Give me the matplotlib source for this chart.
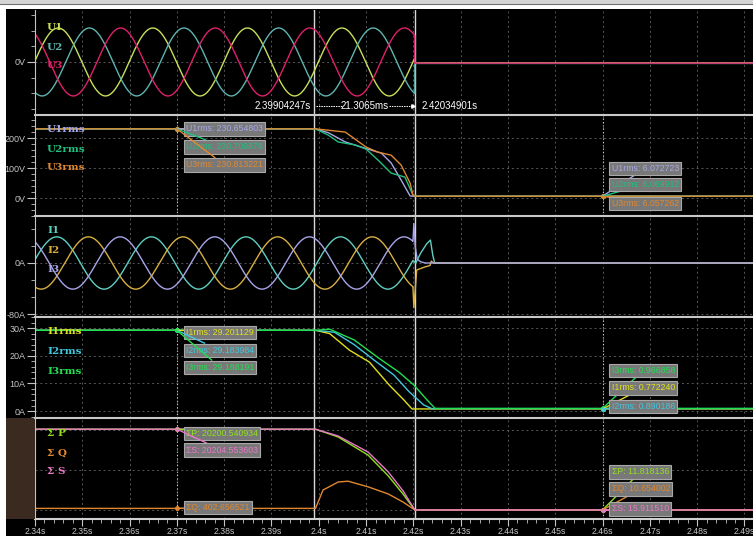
import numpy as np
import matplotlib.pyplot as plt
from matplotlib.ticker import MultipleLocator, FixedLocator, FuncFormatter

W, H = 753, 536

# Sumbu waktu [s]
t_start, t_stop = 2.34, 2.4918
cursor_a, cursor_b = 2.39904247, 2.42034901
mark_a, mark_b = 2.37, 2.46
t_cut_u = 2.4203
t_cut_i = 2.4199
freq = 50.0

# Tegangan fasa: nilai puncak [V] dan waktu puncak pertama [s]
u_names = ['U1', 'U2', 'U3']
u_colors = ['#c8e05a', '#5fb4b0', '#e0206a']
u_peak = [325, 325, 325]
u_peak_time = [2.3449, 2.3515, 2.3581]
u_after = [-8, -14, -11]

# Arus fasa [A]
i_names = ['I1', 'I2', 'I3']
i_colors = ['#5fd0c0', '#d8b040', '#a8a4e8']
i_peak = [41, 41, 41]
i_peak_time = [2.3446, 2.3513, 2.3580]
i1_tail_t = [2.4205, 2.4215, 2.4228, 2.4236, 2.4241, 2.4245, 2.4918]
i1_tail_v = [0, 15, 30, 36, 12, 0, 0]
i2_tail_t = [2.4201, 2.4207, 2.4225, 2.4235, 2.4238, 2.4242, 2.4918]
i2_tail_v = [-70, -11, -6, -4, 3, 0, 0]
i3_tail_t = [2.4201, 2.4204, 2.4208, 2.4215, 2.4225, 2.4918]
i3_tail_v = [62, 25, 6, 2, 0, 0]

# Tegangan rms [V]
urms_names = ['U1rms', 'U2rms', 'U3rms']
urms_colors = ['#a8a8e8', '#20c080', '#e08830']
u1rms_t = [2.34, 2.3993, 2.4020, 2.4056, 2.4104, 2.4132, 2.4153, 2.4174, 2.4193, 2.4200, 2.4918]
u1rms_v = [230.65, 230.65, 218, 187, 163, 150, 117, 60, 7, 6.07, 6.07]
u2rms_t = [2.34, 2.3993, 2.4020, 2.4041, 2.4077, 2.4100, 2.4125, 2.4153, 2.4182, 2.4199, 2.4205, 2.4918]
u2rms_v = [230.71, 230.71, 210, 187, 177, 163, 127, 83, 70, 10, 6.07, 6.07]
u3rms_t = [2.34, 2.3993, 2.4056, 2.4100, 2.4125, 2.4153, 2.4174, 2.4193, 2.4199, 2.4205, 2.4918]
u3rms_v = [230.81, 230.81, 220, 170, 153, 143, 110, 50, 10, 6.06, 6.06]

# Arus rms [A]
irms_names = ['I1rms', 'I2rms', 'I3rms']
irms_colors = ['#e0e020', '#40c8e0', '#20e050']
i1rms_t = [2.34, 2.3993, 2.4023, 2.4065, 2.4107, 2.4149, 2.4180, 2.4197, 2.4918]
i1rms_v = [29.20, 29.20, 28, 22, 17.7, 9.4, 4, 0.77, 0.77]
i2rms_t = [2.34, 2.3993, 2.4033, 2.4075, 2.4117, 2.4159, 2.4191, 2.4222, 2.4239, 2.4918]
i2rms_v = [29.18, 29.18, 28.5, 24, 18.4, 13, 7, 2.2, 0.89, 0.89]
i3rms_t = [2.34, 2.3993, 2.4023, 2.4075, 2.4128, 2.4170, 2.4201, 2.4229, 2.4246, 2.4918]
i3rms_v = [29.19, 29.19, 29.6, 25.7, 19, 14, 9.4, 4, 0.97, 0.97]

# Daya total
pwr_names = ['\u03a3 P', '\u03a3 Q', '\u03a3 S']
pwr_colors = ['#90e020', '#e08830', '#e878c8']
p_t = [2.34, 2.3993, 2.4041, 2.4104, 2.4147, 2.4178, 2.4203, 2.4918]
p_v = [20200.5, 20200.5, 18250, 13750, 8500, 4000, 12, 12]
q_t = [2.34, 2.3993, 2.4009, 2.4041, 2.4062, 2.4104, 2.4147, 2.4178, 2.4203, 2.4918]
q_v = [402.7, 402.7, 5000, 7000, 7200, 5800, 4000, 2000, 11, 11]
s_t = [2.34, 2.3993, 2.4041, 2.4104, 2.4147, 2.4178, 2.4203, 2.4918]
s_v = [20204.6, 20204.6, 18500, 14500, 9500, 4800, 16, 16]

# Label kursor
urms_a = ['U1rms: 230.654803', 'U2rms: 230.709878', 'U3rms: 230.813221']
urms_b = ['U1rms: 6.072723', 'U2rms: 6.069912', 'U3rms: 6.057262']
irms_a = ['I1rms: 29.201129', 'I2rms: 29.183984', 'I3rms: 29.188191']
irms_b = ['I1rms: 0.772240', 'I2rms: 0.890186', 'I3rms: 0.966858']
pwr_a = ['\u03a3P: 20200.540934', '\u03a3Q: 402.656521', '\u03a3S: 20204.553603']
pwr_b = ['\u03a3P: 11.818136', '\u03a3Q: 10.654002', '\u03a3S: 15.911510']

GRID = '#585858'
TXT = '#c4c4c4'
plt.rcParams['font.family'] = ['Liberation Sans', 'DejaVu Sans']

fig = plt.figure(figsize=(W / 100, H / 100), dpi=100, facecolor='black')


def fx(x):
    return x / W


def fy(y):
    return 1 - y / H


def make_ax(y0, y1, ylim):
    ax = fig.add_axes([fx(35), fy(y1), fx(W - 35), (y1 - y0) / H])
    ax.set_facecolor('black')
    ax.set_xlim(t_start, t_stop)
    ax.set_ylim(*ylim)
    for s in ['top', 'right', 'bottom']:
        ax.spines[s].set_visible(False)
    ax.spines['left'].set_color(TXT)
    ax.xaxis.set_major_locator(MultipleLocator(0.01))
    ax.xaxis.set_minor_locator(MultipleLocator(0.002))
    ax.tick_params(axis='x', which='both', bottom=False, labelbottom=False)
    ax.tick_params(axis='y', which='major', colors=TXT, length=6, labelsize=6.5, pad=1)
    ax.tick_params(axis='y', which='minor', colors=TXT, length=3)
    ax.grid(which='major', color=GRID, ls=(0, (2, 3)), lw=0.7)
    ax.axvline(cursor_a, color='#d8d8d8', lw=1)
    ax.axvline(cursor_b, color='#d8d8d8', lw=1)
    return ax


def labels(names, colors, ys):
    for n, c, y in zip(names, colors, ys):
        fig.text(fx(47), fy(y), n, color=c, fontsize=7.5, fontweight='bold',
                 family='DejaVu Serif', va='center')


def boxes(ax, t, ys, texts, colors, offsets):
    for y, s, c, dy in zip(ys, texts, colors, offsets):
        ax.plot([t], [y], 'o', color=c, ms=2.5, zorder=6)
        ax.annotate(s, xy=(t, y), xytext=(9, dy), textcoords='offset pixels',
                    color=c, fontsize=6.3, ha='left', va='center', zorder=7,
                    bbox=dict(boxstyle='square,pad=0.25', fc='#787878', ec='#a8a8a8', lw=0.8),
                    arrowprops=dict(arrowstyle='-', color=c, lw=1, shrinkA=0, shrinkB=0))


# Latar bagian atas dan kiri
fig.add_artist(plt.Rectangle((0, fy(3.5)), 1, 3.5 / H, transform=fig.transFigure, fc='#d4d4d4', ec='none'))
fig.add_artist(plt.Rectangle((0, fy(9)), 1, 5 / H, transform=fig.transFigure, fc='white', ec='none'))
fig.add_artist(plt.Line2D([0, 1], [fy(3.8)] * 2, color='#707070', lw=0.8))
fig.add_artist(plt.Rectangle((0, 0), fx(6), fy(9), transform=fig.transFigure, fc='white', ec='none'))
fig.add_artist(plt.Rectangle((fx(6), fy(519)), fx(29), 101 / H, transform=fig.transFigure,
                             fc='#3a2a1f', ec='none'))

# Panel 1: tegangan fasa
ax1 = make_ax(10, 115, (-507, 497))
ax1.yaxis.set_major_locator(FixedLocator([0]))
ax1.yaxis.set_major_formatter(FuncFormatter(lambda v, p: '0V'))
ax1.yaxis.set_minor_locator(MultipleLocator(150))
tu = np.linspace(t_start, t_cut_u, 3000)
for pk, tp, lvl, c in zip(u_peak, u_peak_time, u_after, u_colors):
    ax1.plot(np.r_[tu, t_cut_u, t_stop], np.r_[pk * np.cos(2 * np.pi * freq * (tu - tp)), lvl, lvl],
             color=c, lw=1)
labels(u_names, u_colors, [27, 47, 66])
ax1.text(cursor_a - 0.0007, -470, '2.39904247s', color='white', fontsize=7, ha='right', va='bottom')
ax1.text((cursor_a + cursor_b) / 2, -470, '21.3065ms', color='white', fontsize=7, ha='center', va='bottom')
ax1.text(cursor_b + 0.0014, -470, '2.42034901s', color='white', fontsize=7, ha='left', va='bottom')
ax1.plot([cursor_a + 0.0004, cursor_a + 0.0058], [-425, -425], color='white', lw=0.7, ls=(0, (1.5, 1)))
ax1.plot([cursor_b - 0.0056, cursor_b - 0.0004], [-425, -425], color='white', lw=0.7, ls=(0, (1.5, 1)))
ax1.plot([cursor_b - 0.0004], [-425], '>', color='white', ms=2.5)

# Panel 2: tegangan rms
ax2 = make_ax(115, 216, (-60, 277))
ax2.yaxis.set_major_locator(MultipleLocator(100))
ax2.yaxis.set_minor_locator(MultipleLocator(20))
ax2.yaxis.set_major_formatter(FuncFormatter(lambda v, p: f'{v:.0f}V'))
for tt, vv, c in zip([u1rms_t, u2rms_t, u3rms_t], [u1rms_v, u2rms_v, u3rms_v], urms_colors):
    ax2.plot(tt, vv, color=c, lw=1)
for m in (mark_a, mark_b):
    ax2.axvline(m, color='#d0d0d0', ls=(0, (1, 2)), lw=0.8)
labels(urms_names, urms_colors, [129, 149, 168])
boxes(ax2, mark_a, [230.65, 230.71, 230.81], urms_a, urms_colors, [0, -18, -36])
boxes(ax2, mark_b, [6.07, 6.07, 6.06], urms_b, urms_colors, [28, 12, -7])

# Panel 3: arus fasa
ax3 = make_ax(216, 317, (-84.7, 73.7))
ax3.yaxis.set_major_locator(FixedLocator([-80, 0]))
ax3.yaxis.set_minor_locator(MultipleLocator(80 / 3))
ax3.yaxis.set_major_formatter(FuncFormatter(lambda v, p: f'{v:.0f}A'))
ti = np.linspace(t_start, t_cut_i, 3000)
tails = [(i1_tail_t, i1_tail_v), (i2_tail_t, i2_tail_v), (i3_tail_t, i3_tail_v)]
for pk, tp, (tt, vv), c in zip(i_peak, i_peak_time, tails, i_colors):
    ax3.plot(np.r_[ti, tt], np.r_[pk * np.cos(2 * np.pi * freq * (ti - tp)), vv], color=c, lw=1)
labels(i_names, i_colors, [230, 250, 270])

# Panel 4: arus rms
ax4 = make_ax(317, 418, (-2.5, 34))
ax4.yaxis.set_major_locator(MultipleLocator(10))
ax4.yaxis.set_minor_locator(MultipleLocator(2))
ax4.yaxis.set_major_formatter(FuncFormatter(lambda v, p: f'{v:.0f}A'))
for tt, vv, c in zip([i1rms_t, i2rms_t, i3rms_t], [i1rms_v, i2rms_v, i3rms_v], irms_colors):
    ax4.plot(tt, vv, color=c, lw=1)
for m in (mark_a, mark_b):
    ax4.axvline(m, color='#d0d0d0', ls=(0, (1, 2)), lw=0.8)
labels(irms_names, irms_colors, [331, 351, 372])
boxes(ax4, mark_a, [29.20, 29.18, 29.19], irms_a, irms_colors, [-2, -20, -37])
boxes(ax4, mark_b, [0.97, 0.77, 0.89], [irms_b[2], irms_b[0], irms_b[1]],
      [irms_colors[2], irms_colors[0], irms_colors[1]], [38, 21, 2])

# Panel 5: daya
ax5 = make_ax(418, 519, (-2250, 23000))
ax5.yaxis.set_major_locator(MultipleLocator(10000))
ax5.yaxis.set_minor_locator(MultipleLocator(2000))
ax5.yaxis.set_major_formatter(FuncFormatter(lambda v, p: f'{v:.0f}'))
for tt, vv, c in zip([p_t, q_t, s_t], [p_v, q_v, s_v], pwr_colors):
    ax5.plot(tt, vv, color=c, lw=1)
for m in (mark_a, mark_b):
    ax5.axvline(m, color='#d0d0d0', ls=(0, (1, 2)), lw=0.8)
labels(pwr_names, pwr_colors, [433, 453, 472])
boxes(ax5, mark_a, [20200.5, 20204.6], [pwr_a[0], pwr_a[2]], [pwr_colors[0], pwr_colors[2]], [-4, -21])
boxes(ax5, mark_a, [402.7], [pwr_a[1]], [pwr_colors[1]], [1])
boxes(ax5, mark_b, [11.8, 10.7, 15.9], pwr_b, pwr_colors, [38, 21, 1])
ax5.spines['bottom'].set_visible(True)
ax5.spines['bottom'].set_color('#d0d0d0')
ax5.spines['bottom'].set_linewidth(1.5)
ax5.tick_params(axis='x', which='major', bottom=True, labelbottom=True, colors=TXT,
                length=5, labelsize=6.3, pad=1)
ax5.tick_params(axis='x', which='minor', bottom=True, colors=TXT, length=3)
ax5.xaxis.set_major_formatter(FuncFormatter(lambda v, p: f'{round(v, 2):g}s'))

# Garis pemisah panel
for y in (115, 216, 317, 418):
    fig.add_artist(plt.Line2D([fx(35), 1], [fy(y)] * 2, color='#c8c8c8', lw=1.5))

fig.savefig('out.png', dpi=100, facecolor='black')
